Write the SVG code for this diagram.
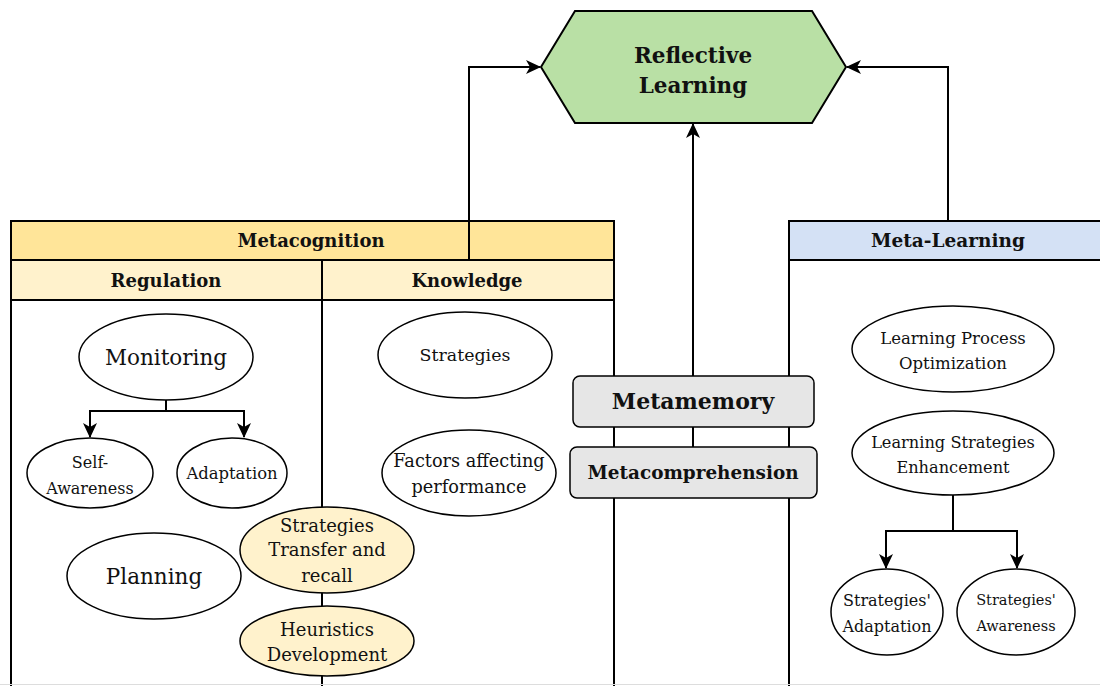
<svg xmlns="http://www.w3.org/2000/svg" width="1100" height="686" viewBox="0 0 1100 686">
<defs>
<marker id="arr" viewBox="0 0 15 14" refX="14" refY="7" markerWidth="15" markerHeight="14" markerUnits="userSpaceOnUse" orient="auto">
<path d="M0,0 L15,7 L0,14 L4,7 Z" fill="#000"/>
</marker>
<style>
text{font-family:"DejaVu Serif","Liberation Serif",serif;fill:#111;text-anchor:middle;dominant-baseline:central}
.b{font-weight:bold}
.el{fill:#fff;stroke:#000;stroke-width:1.5}
.ey{fill:#fff2cc;stroke:#000;stroke-width:1.5}
.ln{fill:none;stroke:#000;stroke-width:2}
.cn{fill:none;stroke:#000;stroke-width:2}
.gb{fill:#e6e6e6;stroke:#000;stroke-width:1.5}
</style>
</defs>
<rect x="0" y="0" width="1100" height="686" fill="#fff"/>

<g id="metacognition">
<rect x="11" y="221" width="603" height="480" fill="#fff" stroke="#000" stroke-width="2"/>
<rect x="11" y="221" width="603" height="39" fill="#ffe599" stroke="#000" stroke-width="2"/>
<rect x="11" y="260" width="311" height="40" fill="#fff2cc" stroke="#000" stroke-width="2"/>
<rect x="322" y="260" width="292" height="40" fill="#fff2cc" stroke="#000" stroke-width="2"/>
<line x1="322" y1="300" x2="322" y2="686" class="ln"/>
<text x="311" y="240" class="b" font-size="18">Metacognition</text>
<text x="166" y="280" class="b" font-size="18">Regulation</text>
<text x="467" y="280" class="b" font-size="18">Knowledge</text>
</g>

<g id="metalearning">
<rect x="789" y="221" width="330" height="480" fill="#fff" stroke="#000" stroke-width="2"/>
<rect x="789" y="221" width="330" height="39" fill="#d4e1f5" stroke="#000" stroke-width="2"/>
<text x="948" y="240" class="b" font-size="18.5">Meta-Learning</text>
</g>

<line x1="0" y1="684.5" x2="1100" y2="684.5" stroke="#ddd" stroke-width="1"/>

<g id="connectors">
<polyline points="469,260 469,67 540,67" class="cn" marker-end="url(#arr)"/>
<polyline points="948,221 948,67 847,67" class="cn" marker-end="url(#arr)"/>
<polyline points="693,376 693,124" class="cn" marker-end="url(#arr)"/>
<line x1="693" y1="427" x2="693" y2="447" class="cn"/>
<polyline points="166,400 166,411 90,411 90,437" class="cn" marker-end="url(#arr)"/>
<polyline points="166,411 244,411 244,437" class="cn" marker-end="url(#arr)"/>
<polyline points="953,495 953,531 886,531 886,568" class="cn" marker-end="url(#arr)"/>
<polyline points="953,531 1017,531 1017,568" class="cn" marker-end="url(#arr)"/>
</g>

<g id="reflective-learning">
<polygon points="575,11 812,11 846,67 812,123 575,123 541,67" fill="#b9e0a5" stroke="#000" stroke-width="2"/>
<text x="693" y="55" class="b" font-size="21.5">Reflective</text>
<text x="693" y="85" class="b" font-size="21.5">Learning</text>
</g>

<g id="metamemory">
<rect x="573" y="376" width="241" height="51" rx="7" class="gb"/>
<text x="693" y="401" class="b" font-size="22">Metamemory</text>
</g>
<g id="metacomprehension">
<rect x="570" y="447" width="247" height="51" rx="7" class="gb"/>
<text x="693" y="472" class="b" font-size="18.4">Metacomprehension</text>
</g>

<g id="monitoring">
<ellipse cx="166" cy="357" rx="87" ry="43" class="el"/>
<text x="166" y="357" font-size="21.5">Monitoring</text>
</g>
<g id="self-awareness">
<ellipse cx="90" cy="473" rx="63" ry="35" class="el"/>
<text x="90" y="462" font-size="16">Self-</text>
<text x="90" y="488" font-size="16">Awareness</text>
</g>
<g id="adaptation">
<ellipse cx="232" cy="473" rx="55" ry="35" class="el"/>
<text x="232" y="473" font-size="16.4">Adaptation</text>
</g>
<g id="planning">
<ellipse cx="154" cy="576" rx="87" ry="43" class="el"/>
<text x="154" y="576" font-size="21.5">Planning</text>
</g>
<g id="strategies-transfer">
<ellipse cx="327" cy="550" rx="87" ry="43" class="ey"/>
<text x="327" y="525" font-size="18">Strategies</text>
<text x="327" y="549" font-size="18">Transfer and</text>
<text x="327" y="575" font-size="18">recall</text>
</g>
<g id="heuristics">
<ellipse cx="327" cy="641" rx="87" ry="35" class="ey"/>
<text x="327" y="629" font-size="18">Heuristics</text>
<text x="327" y="654" font-size="18">Development</text>
</g>
<g id="strategies">
<ellipse cx="465" cy="355" rx="87" ry="43" class="el"/>
<text x="465" y="355" font-size="17.4">Strategies</text>
</g>
<g id="factors">
<ellipse cx="469" cy="473" rx="87" ry="43" class="el"/>
<text x="469" y="461" font-size="17.7">Factors affecting</text>
<text x="469" y="487" font-size="17.7">performance</text>
</g>
<g id="learning-process">
<ellipse cx="953" cy="349" rx="101" ry="43" class="el"/>
<text x="953" y="338" font-size="16.5">Learning Process</text>
<text x="953" y="363" font-size="16.5">Optimization</text>
</g>
<g id="learning-strategies">
<ellipse cx="953" cy="453" rx="101" ry="42" class="el"/>
<text x="953" y="442" font-size="16.2">Learning Strategies</text>
<text x="953" y="467" font-size="16.2">Enhancement</text>
</g>
<g id="strategies-adaptation">
<ellipse cx="887" cy="612" rx="56" ry="43" class="el"/>
<text x="887" y="600" font-size="16">Strategies'</text>
<text x="887" y="626" font-size="16">Adaptation</text>
</g>
<g id="strategies-awareness">
<ellipse cx="1016" cy="612" rx="59" ry="43" class="el"/>
<text x="1016" y="600" font-size="14.5">Strategies'</text>
<text x="1016" y="626" font-size="14.5">Awareness</text>
</g>
</svg>
